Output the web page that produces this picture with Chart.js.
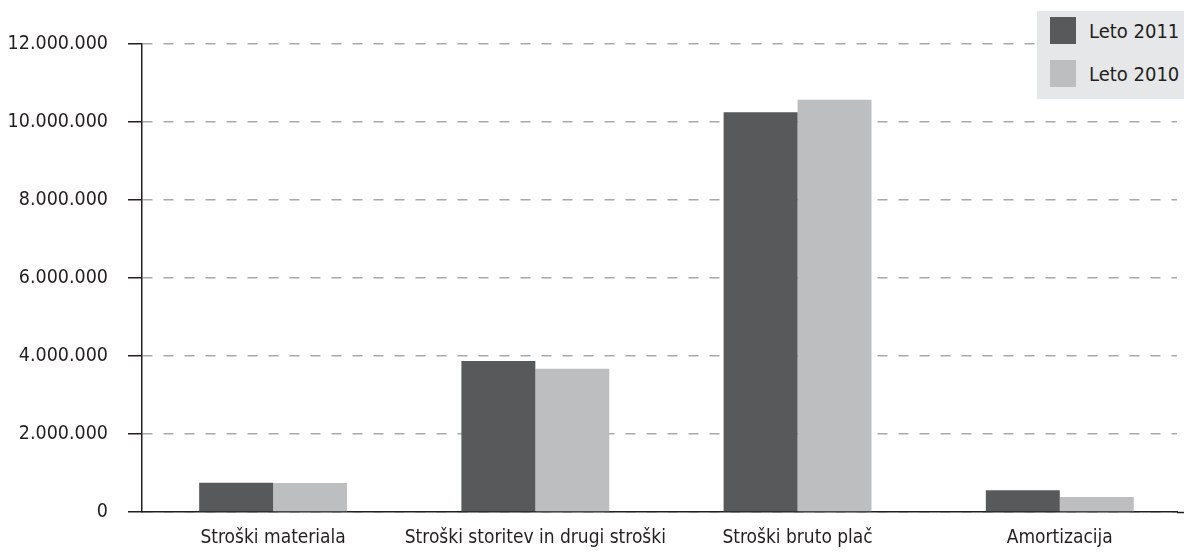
<!DOCTYPE html>
<html>
<head>
<meta charset="utf-8">
<script src="https://cdn.jsdelivr.net/npm/chart.js@4.4.1/dist/chart.umd.min.js"></script>
<style>
  html, body { margin: 0; padding: 0; background: #fff; overflow: hidden; }
  #wrap { position: relative; width: 1184px; height: 556px; }
  #legend {
    position: absolute; left: 1037px; top: 11px; width: 147px; height: 88px;
    background: #e6e7e8; box-sizing: border-box;
    font-family: 'DejaVu Sans Condensed', 'DejaVu Sans', sans-serif;
    font-size: 20px; color: #231f20; white-space: nowrap;
  }
  .item { position: absolute; left: 13px; height: 27px; display: flex; align-items: center; }
  .sw { width: 26px; height: 27px; margin-right: 13px; flex: none; }
</style>
</head>
<body>
<div id="wrap">
  <canvas id="c" width="1184" height="556"></canvas>
  <div id="legend"></div>
</div>
<script>
const categories = ['Stroški materiala', 'Stroški storitev in drugi stroški', 'Stroški bruto plač', 'Amortizacija'];
const series2011 = [750000, 3870000, 10250000, 560000];
const series2010 = [745000, 3670000, 10570000, 385000];
const seriesNames = ['Leto 2011', 'Leto 2010'];
const seriesColors = ['#58595b', '#bcbec0'];
const yTicks = [0, 2000000, 4000000, 6000000, 8000000, 10000000, 12000000];

const FONT = "'DejaVu Sans Condensed', 'DejaVu Sans', sans-serif";
const TXT = '#231f20';

function fmt(v) {
  return String(v).replace(/\B(?=(\d{3})+(?!\d))/g, '.');
}
function toPoints(vals) { return vals.map((v, i) => ({ x: i, y: v })); }

const datasets = [series2011, series2010].map((vals, k) => ({
  label: seriesNames[k],
  data: toPoints(vals),
  backgroundColor: seriesColors[k],
  borderWidth: 0,
  categoryPercentage: 0.564,
  barPercentage: 1.0
}));

// extends the x-axis baseline to the right edge of the canvas
const axisExtend = {
  id: 'axisExtend',
  afterDraw(chart) {
    const { ctx, chartArea } = chart;
    ctx.save();
    ctx.strokeStyle = TXT;
    ctx.lineWidth = 1.5;
    ctx.beginPath();
    ctx.moveTo(chartArea.right, chartArea.bottom + 0.5);
    ctx.lineTo(chart.width, chartArea.bottom + 0.5);
    ctx.stroke();
    ctx.restore();
  }
};

const chart = new Chart(document.getElementById('c'), {
  type: 'bar',
  data: { datasets },
  plugins: [axisExtend],
  options: {
    responsive: false,
    animation: false,
    devicePixelRatio: 1,
    layout: { padding: { top: 44, right: 7, left: 0, bottom: 0 } },
    plugins: { legend: { display: false }, tooltip: { enabled: false } },
    scales: {
      x: {
        type: 'linear',
        offset: false,
        min: -0.5,
        max: 3.447,
        afterFit(scale) { scale.height = 44; scale.paddingLeft = 0; scale.paddingRight = 0; },
        grid: { display: false, drawTicks: false, offset: false },
        border: { display: true, color: TXT, width: 1.5 },
        ticks: {
          stepSize: 1,
          includeBounds: false,
          autoSkip: false,
          maxRotation: 0,
          padding: 15,
          color: TXT,
          font: { family: FONT, size: 19 },
          callback: (v) => Number.isInteger(v) && v >= 0 && v < categories.length ? categories[v] : ''
        }
      },
      y: {
        min: yTicks[0],
        max: yTicks[yTicks.length - 1],
        afterFit(scale) { scale.width = 142; },
        afterBuildTicks(scale) { scale.ticks = yTicks.map(v => ({ value: v })); },
        grid: {
          color: '#a7a9ac',
          lineWidth: 1.5,
          tickLength: 14,
          tickColor: '#231f20',
          tickWidth: 1.5,
          tickBorderDash: []
        },
        border: { display: true, color: TXT, width: 1.5, dash: [10, 11] },
        ticks: {
          padding: 20,
          color: TXT,
          font: { family: FONT, size: 19.5 },
          callback: (v) => fmt(v)
        }
      }
    }
  }
});

const legend = document.getElementById('legend');
chart.data.datasets.forEach((ds, i) => {
  const it = document.createElement('div');
  it.className = 'item';
  it.style.top = (6 + i * 43) + 'px';
  const sw = document.createElement('div');
  sw.className = 'sw';
  sw.style.background = ds.backgroundColor;
  const tx = document.createElement('span');
  tx.textContent = ds.label;
  it.appendChild(sw);
  it.appendChild(tx);
  legend.appendChild(it);
});
</script>
</body>
</html>
